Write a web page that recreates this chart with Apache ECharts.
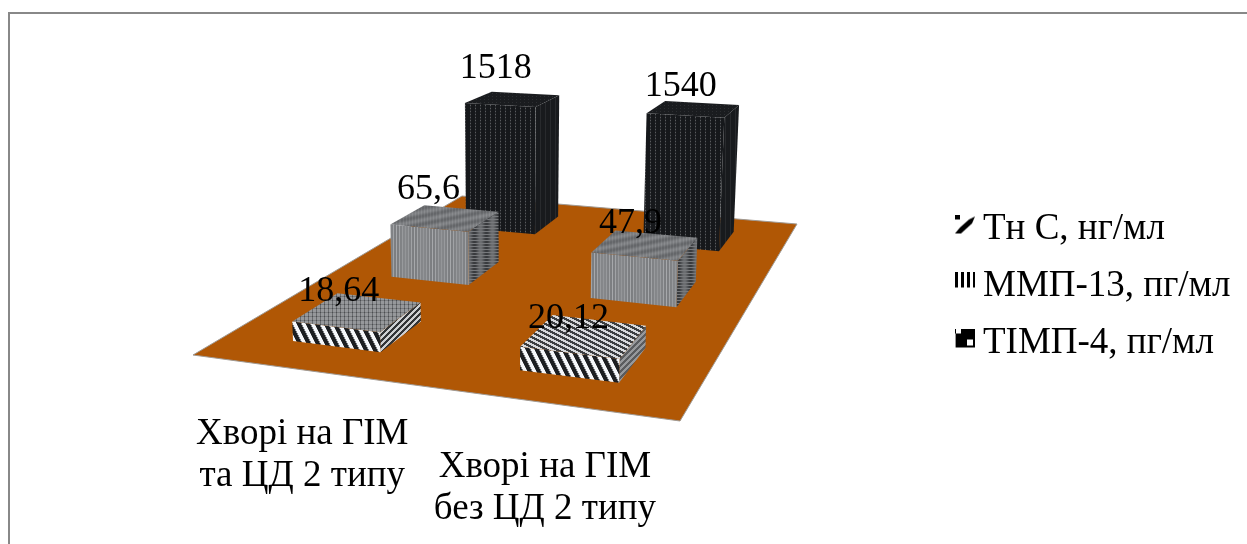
<!DOCTYPE html>
<html>
<head>
<meta charset="utf-8">
<title>Маркери у хворих на ГІМ</title>
<script src="https://cdn.jsdelivr.net/npm/echarts@6/dist/echarts.min.js"></script>
<style>
  html, body { margin: 0; padding: 0; background: #fff; }
  #chart { width: 1247px; height: 544px; }
</style>
</head>
<body>
<div id="chart"></div>
<script>
// Chart data
const categories = ['Хворі на ГІМ\nта ЦД 2 типу', 'Хворі на ГІМ\nбез ЦД 2 типу'];
const seriesNames = ['Тн С, нг/мл', 'ММП-13, пг/мл', 'ТІМП-4, пг/мл'];
const tnC = [18.64, 20.12];
const mmp13 = [65.6, 47.9];
const timp4 = [1518, 1540];

// Floor of the 3D scene as seen by the camera: front-left, front-right, back-right, back-left
const FLOOR = [[193, 355], [680, 421], [797, 224], [462, 196]];
const VANISH = [510, 5500];      // where the vertical edges converge
const VANISH_W = -1 / 5400;      // perspective strength along the vertical
const BAR_DU = 0.100;            // half bar width along the category direction
const BAR_DV = 0.070;            // half bar width along the depth direction
const FONT = '"Liberation Serif", "Times New Roman", serif';
// Fine placement of each value label, by series then category
const LABEL_SHIFT = [
  [[-19, -20], [-16, -17]],
  [[-17, -28], [-15, -21]],
  [[-17, -31], [-13, -22]]
];

function floorMatrix(q) {
  const [p0, p1, p2, p3] = q;
  const dx1 = p1[0] - p2[0], dx2 = p3[0] - p2[0], sx = p0[0] - p1[0] + p2[0] - p3[0];
  const dy1 = p1[1] - p2[1], dy2 = p3[1] - p2[1], sy = p0[1] - p1[1] + p2[1] - p3[1];
  const det = dx1 * dy2 - dx2 * dy1;
  const g = (sx * dy2 - dx2 * sy) / det;
  const h = (dx1 * sy - sx * dy1) / det;
  return {
    a: p1[0] - p0[0] + g * p1[0], b: p3[0] - p0[0] + h * p3[0], c: p0[0],
    d: p1[1] - p0[1] + g * p1[1], e: p3[1] - p0[1] + h * p3[1], f: p0[1],
    g: g, h: h
  };
}
const M = floorMatrix(FLOOR);

// u: along the categories, v: into the depth, t: height in pixels at unit depth
function project(u, v, t) {
  const X = M.a * u + M.b * v + M.c + t * VANISH_W * VANISH[0];
  const Y = M.d * u + M.e * v + M.f + t * VANISH_W * VANISH[1];
  const W = M.g * u + M.h * v + 1 + t * VANISH_W;
  return [X / W, Y / W];
}

// Builds a repeating hatch tile from a per-pixel grey function
function tile(w, h, shade) {
  const c = document.createElement('canvas');
  c.width = w; c.height = h;
  const ctx = c.getContext('2d');
  const img = ctx.createImageData(w, h);
  for (let y = 0; y < h; y++) {
    for (let x = 0; x < w; x++) {
      const s = shade(x, y), i = (y * w + x) * 4;
      img.data[i] = s; img.data[i + 1] = s + 2; img.data[i + 2] = s + 5; img.data[i + 3] = 255;
    }
  }
  ctx.putImageData(img, 0, 0);
  return { image: c, repeat: 'repeat' };
}
const mod = (a, n) => ((a % n) + n) % n;

const PATTERNS = [
  { // troponin: wide diagonal hatch
    front: () => tile(9, 18, (x, y) => {
      const d = mod(x - y / 2, 9);
      return d < 4 ? 28 : (d < 4.6 || d > 8.4 ? 130 : 245);
    }),
    top: i => i === 0
      ? tile(8, 8, (x, y) => (mod(x, 4) === 0 ? 105 : 150) - (mod(y, 4) === 0 ? 30 : 0))
      : tile(20, 10, (x, y) => mod(2 * y - x, 10) < 5 ? 60 : 215),
    side: i => i === 0
      ? tile(6, 6, (x, y) => mod(x + y, 6) < 3 ? 50 : 205)
      : tile(6, 6, (x, y) => mod(x + y, 6) < 3 ? 90 : 150)
  },
  { // MMP-13: fine vertical hatch with slow banding
    front: () => tile(36, 4, (x) => {
      const band = 0.5 + 0.5 * Math.cos(2 * Math.PI * x / 18);
      return 138 + (mod(x, 3) === 0 ? 28 : -14) * (0.35 + 0.65 * band);
    }),
    top: () => tile(40, 8, (x, y) => {
      const band = 0.5 + 0.5 * Math.cos(2 * Math.PI * (x + 5 * y) / 40);
      return 104 + 26 * band + (mod(x, 3) === 0 ? 8 : -4);
    }),
    side: () => tile(12, 6, (x, y) => {
      return mod(y, 3) === 0 ? 120 : 82 + 26 * Math.cos(2 * Math.PI * x / 12);
    })
  },
  { // TIMP-4: dark dotted weave
    front: () => tile(5, 3, (x, y) => (x === 0 && y === 0) ? 88 : (x === 0 ? 42 : 22)),
    top: () => tile(4, 3, (x, y) => (x === 0 && y === 0) ? 44 : 26),
    side: () => tile(5, 4, (x) => (x === 0) ? 40 : 24)
  }
];

// Small legend swatches painted to data URLs; the marks sit at the top of the tile
function swatch(draw) {
  const c = document.createElement('canvas');
  c.width = 23; c.height = 30;
  const ctx = c.getContext('2d');
  ctx.fillStyle = '#000';
  draw(ctx);
  return 'image://' + c.toDataURL();
}
const legendIcons = [
  swatch(ctx => {
    ctx.fillRect(0, 0, 5, 5);
    ctx.beginPath();
    ctx.moveTo(0, 19); ctx.lineTo(6, 19); ctx.lineTo(17, 9); ctx.lineTo(20, 2);
    ctx.lineTo(14, 5); ctx.lineTo(5, 13); ctx.closePath(); ctx.fill();
  }),
  swatch(ctx => {
    [0, 6, 12, 18].forEach((x, i) => ctx.fillRect(x, 0, i === 3 ? 2 : 3, 16));
  }),
  swatch(ctx => {
    ctx.fillRect(0, 0, 20, 19);
    ctx.fillStyle = '#fff';
    ctx.fillRect(1, 0, 5, 5);
    ctx.fillRect(12, 11, 6, 6);
    ctx.fillStyle = '#999';
    ctx.fillRect(0, 5, 1, 14);
  })
];

// One cuboid per data item, with its value label above it
function barRenderer(depthIndex) {
  const v0 = (depthIndex + 0.5) / seriesNames.length;
  const pat = PATTERNS[depthIndex];
  const fills = categories.map((_, i) => ({ front: pat.front(i), top: pat.top(i), side: pat.side(i) }));
  return function (params, api) {
    const cat = api.value(0), val = api.value(1);
    const cs = params.coordSys;
    const pt = api.coord([cat, val]);
    const u0 = (pt[0] - cs.x) / cs.width;
    const t = cs.y + cs.height - pt[1];
    const a = u0 - BAR_DU, b = u0 + BAR_DU, n = v0 - BAR_DV, f = v0 + BAR_DV;
    const face = (points, fill) => ({ type: 'polygon', shape: { points }, style: { fill } });
    const lead = project(u0, v0, t);
    const shift = LABEL_SHIFT[depthIndex][cat];
    return {
      type: 'group',
      children: [
        face([project(b, n, 0), project(b, f, 0), project(b, f, t), project(b, n, t)], fills[cat].side),
        face([project(a, n, 0), project(b, n, 0), project(b, n, t), project(a, n, t)], fills[cat].front),
        face([project(a, n, t), project(b, n, t), project(b, f, t), project(a, f, t)], fills[cat].top),
        {
          type: 'text',
          z2: 10,
          style: {
            text: String(val).replace('.', ','),
            x: lead[0] + shift[0], y: lead[1] + shift[1],
            fill: '#000',
            font: '36px ' + FONT,
            textAlign: 'center',
            textVerticalAlign: 'middle'
          }
        }
      ]
    };
  };
}

const chart = echarts.init(document.getElementById('chart'), null, { renderer: 'canvas' });
const valueSets = [tnC, mmp13, timp4];

const barSeries = seriesNames.map((name, s) => ({
  name: name,
  type: 'custom',
  coordinateSystem: 'cartesian2d',
  silent: true,
  animation: false,
  clip: false,
  z: 10 - s,
  encode: { x: 0, y: 1 },
  data: valueSets[s].map((v, i) => [i, v]),
  renderItem: barRenderer(s)
}));

// Floor plate, drawn under the bars
const floorSeries = {
  type: 'custom',
  coordinateSystem: 'cartesian2d',
  silent: true,
  animation: false,
  clip: false,
  z: 1,
  data: [[0, 10]],
  renderItem: function () {
    return {
      type: 'polygon',
      shape: { points: [project(0, 0, 0), project(1, 0, 0), project(1, 1, 0), project(0, 1, 0)] },
      style: { fill: '#b05705', stroke: '#a09a94', lineWidth: 1 }
    };
  }
};

// Category captions hang below the front edge of the floor
const captionSeries = {
  type: 'custom',
  coordinateSystem: 'cartesian2d',
  silent: true,
  animation: false,
  clip: false,
  z: 20,
  data: categories.map((_, i) => [i, 10]),
  renderItem: function (params, api) {
    const cs = params.coordSys;
    const cat = api.value(0);
    const u = (api.coord([cat, 10])[0] - cs.x) / cs.width;
    const p = project(u, 0, 0);
    return {
      type: 'text',
      style: {
        text: categories[cat],
        x: p[0] - 1, y: p[1] + 85,
        fill: '#000',
        font: '37px ' + FONT,
        lineHeight: 42,
        textAlign: 'center',
        textVerticalAlign: 'middle'
      }
    };
  }
};

chart.setOption({
  backgroundColor: '#ffffff',
  animation: false,
  // Value scale of the cuboids: only its pixels-per-decade matter, so it stays hidden
  grid: { left: 0, top: 0, width: 1000, height: 234 },
  xAxis: { type: 'category', data: categories, show: false },
  yAxis: { type: 'log', logBase: 10, min: 10, max: 10000, show: false },
  legend: {
    orient: 'vertical',
    left: 955,
    top: 211,
    padding: 0,
    itemWidth: 23,
    itemHeight: 30,
    itemGap: 20,
    selectedMode: false,
    textStyle: { fontFamily: FONT, fontSize: 37, color: '#000' },
    data: seriesNames.map((name, i) => ({ name: name, icon: legendIcons[i] }))
  },
  graphic: [
    { type: 'line', shape: { x1: 8, y1: 13, x2: 1247, y2: 13 }, style: { stroke: '#888', lineWidth: 2 }, silent: true },
    { type: 'line', shape: { x1: 9, y1: 12, x2: 9, y2: 544 }, style: { stroke: '#888', lineWidth: 2 }, silent: true }
  ],
  series: [floorSeries].concat(barSeries, captionSeries)
});
</script>
</body>
</html>
